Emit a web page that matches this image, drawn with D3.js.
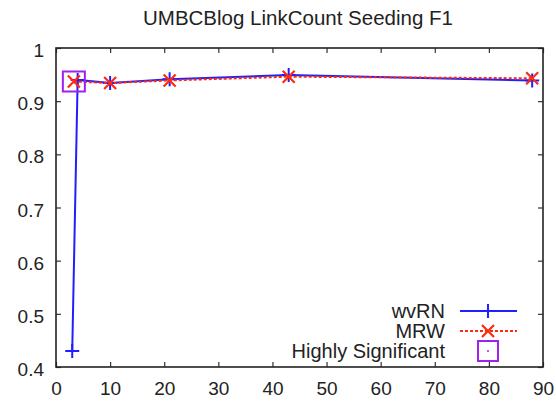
<!DOCTYPE html>
<html>
<head>
<meta charset="utf-8">
<script src="https://cdn.jsdelivr.net/npm/d3@7"></script>
<style>
  body { margin: 0; background: #fff; }
  text { font-family: "Liberation Sans", Arial, sans-serif; fill: #222; }
</style>
</head>
<body>
<svg class="chart"></svg>
<script>
const width = 556, height = 402;
const margin = { top: 48, right: 13, bottom: 35, left: 56 };

// data
const wvrnX = [3, 4, 10, 21, 43, 88];
const wvrnY = [0.43, 0.94, 0.934, 0.941, 0.949, 0.939];
const mrwX = [3.3, 10, 21, 43, 88];
const mrwY = [0.937, 0.934, 0.939, 0.946, 0.943];
const sigX = [3.3];
const sigY = [0.937];
const xTicks = [0, 10, 20, 30, 40, 50, 60, 70, 80, 90];
const yTicks = [0.4, 0.5, 0.6, 0.7, 0.8, 0.9, 1];
const legendNames = ["wvRN", "MRW", "Highly Significant"];

const x = d3.scaleLinear().domain([0, 90]).range([margin.left, width - margin.right]);
const y = d3.scaleLinear().domain([0.4, 1]).range([height - margin.bottom, margin.top]);

const svg = d3.select(".chart").attr("width", width).attr("height", height);

// title
svg.append("text").attr("x", 298).attr("y", 25).attr("text-anchor", "middle")
  .style("font-size", "20.5px").text("UMBCBlog LinkCount Seeding F1");

// axes: ticks pointing inward, mirrored on top / right
const fmtY = d => d === 1 ? "1" : d3.format(".1f")(d);
svg.append("g").attr("transform", `translate(0,${y.range()[0]})`)
  .call(d3.axisBottom(x).tickValues(xTicks).tickSizeInner(-5).tickSizeOuter(0).tickPadding(15));
svg.append("g").attr("transform", `translate(0,${y.range()[1]})`)
  .call(d3.axisTop(x).tickValues(xTicks).tickSizeInner(-5).tickSizeOuter(0).tickFormat(""));
svg.append("g").attr("class", "yl").attr("transform", `translate(${x.range()[0]},0)`)
  .call(d3.axisLeft(y).tickValues(yTicks).tickFormat(fmtY).tickSizeInner(-5).tickSizeOuter(0).tickPadding(12));
svg.append("g").attr("transform", `translate(${x.range()[1]},0)`)
  .call(d3.axisRight(y).tickValues(yTicks).tickSizeInner(-5).tickSizeOuter(0).tickFormat(""));
svg.selectAll(".domain").remove();
svg.selectAll(".tick line").attr("stroke", "#333").attr("stroke-width", 1.2);
svg.selectAll(".tick text").style("font-size", "19px").attr("fill", "#222");
svg.selectAll(".yl .tick text").attr("dy", "0.45em");

svg.append("rect").attr("x", x.range()[0]).attr("y", y.range()[1])
  .attr("width", x.range()[1] - x.range()[0]).attr("height", y.range()[0] - y.range()[1])
  .attr("fill", "none").attr("stroke", "#222").attr("stroke-width", 1.6);

const line = d3.line().x(d => x(d[0])).y(d => y(d[1]));

function plus(g, cx, cy, s, color) {
  g.append("path").attr("d", `M${cx - s},${cy}H${cx + s}M${cx},${cy - s}V${cy + s}`)
    .attr("stroke", color).attr("stroke-width", 2).attr("fill", "none");
}
function cross(g, cx, cy, s, color) {
  g.append("path").attr("d", `M${cx - s},${cy - s}L${cx + s},${cy + s}M${cx - s},${cy + s}L${cx + s},${cy - s}`)
    .attr("stroke", color).attr("stroke-width", 2.2).attr("fill", "none");
}

// wvRN
const wvrn = d3.zip(wvrnX, wvrnY);
svg.append("path").datum(wvrn).attr("d", line).attr("fill", "none")
  .attr("stroke", "#2020ff").attr("stroke-width", 2);
wvrn.forEach(d => plus(svg, x(d[0]), y(d[1]), 7, "#2020ff"));

// MRW
const mrw = d3.zip(mrwX, mrwY);
svg.append("path").datum(mrw).attr("d", line).attr("fill", "none")
  .attr("stroke", "#ff2a10").attr("stroke-width", 2).attr("stroke-dasharray", "3,2");
mrw.forEach(d => cross(svg, x(d[0]), y(d[1]), 6, "#ff2a10"));

// significance boxes
d3.zip(sigX, sigY).forEach(d => {
  svg.append("rect").attr("x", x(d[0]) - 11).attr("y", y(d[1]) - 10).attr("width", 22).attr("height", 20)
    .attr("fill", "none").attr("stroke", "#a020f0").attr("stroke-width", 2);
});

// legend
const lg = svg.append("g");
const rows = [311, 331, 351];
legendNames.forEach((name, i) => {
  lg.append("text").attr("x", 445).attr("y", rows[i] + 7).attr("text-anchor", "end")
    .style("font-size", "20px").text(name);
});
lg.append("line").attr("x1", 460).attr("x2", 517).attr("y1", rows[0]).attr("y2", rows[0])
  .attr("stroke", "#2020ff").attr("stroke-width", 2);
plus(lg, 488, rows[0], 7, "#2020ff");
lg.append("line").attr("x1", 460).attr("x2", 517).attr("y1", rows[1]).attr("y2", rows[1])
  .attr("stroke", "#ff2a10").attr("stroke-width", 2).attr("stroke-dasharray", "3,2");
cross(lg, 488, rows[1], 6, "#ff2a10");
lg.append("rect").attr("x", 478).attr("y", rows[2] - 10).attr("width", 20).attr("height", 20)
  .attr("fill", "none").attr("stroke", "#a020f0").attr("stroke-width", 2);
lg.append("circle").attr("cx", 488).attr("cy", rows[2]).attr("r", 1).attr("fill", "#a020f0");
</script>
</body>
</html>
